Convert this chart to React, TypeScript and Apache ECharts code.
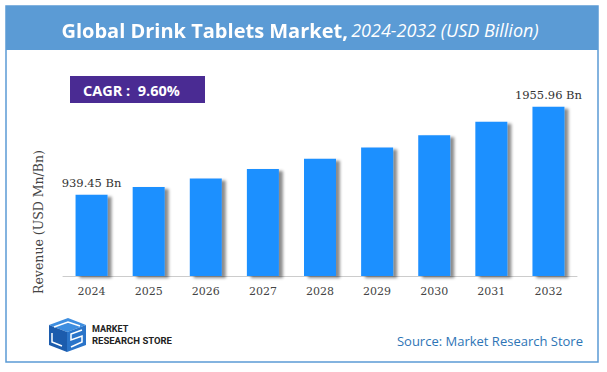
import React, { useEffect, useRef } from "react";
import * as echarts from "echarts";

const years = ["2024", "2025", "2026", "2027", "2028", "2029", "2030", "2031", "2032"];
const revenue = [939.45, 1029.64, 1128.49, 1236.82, 1355.56, 1485.69, 1628.32, 1784.64, 1955.96];
const labelledYears = ["2024", "2032"];
const titleMain = "Global Drink Tablets Market,";
const titleSub = "2024-2032 (USD Billion)";
const cagrText = "CAGR :  9.60%";
const yAxisName = "Revenue (USD Mn/Bn)";
const sourceText = "Source: Market Research Store";

export default function App() {
  const ref = useRef<HTMLDivElement>(null);
  useEffect(() => {
    if (!ref.current) return;
    const chart = echarts.init(ref.current, null, { renderer: "svg" });
    const data = revenue.map((v, i) => ({
      value: v,
      label: { show: labelledYears.includes(years[i]) },
    }));
    chart.setOption({
      animation: false,
      backgroundColor: "#ffffff",
      grid: { left: 63, right: 30, top: 103, bottom: 96 },
      xAxis: {
        type: "category",
        data: years,
        axisLine: { lineStyle: { color: "#cccccc", width: 1 } },
        axisTick: { show: false },
        axisLabel: { color: "#444444", fontFamily: "DejaVu Serif", fontSize: 11, margin: 10 },
      },
      yAxis: {
        type: "value",
        min: 0,
        max: 2000,
        axisLine: { show: false },
        axisTick: { show: false },
        axisLabel: { show: false },
        splitLine: { show: false },
      },
      series: [
        {
          type: "bar",
          data,
          barWidth: 32,
          itemStyle: {
            color: "#1E90FF",
            shadowColor: "rgba(0,0,0,0.45)",
            shadowBlur: 3,
            shadowOffsetX: 4,
            shadowOffsetY: 2,
          },
          label: {
            position: "top",
            distance: 6,
            formatter: "{c} Bn",
            color: "#333333",
            fontFamily: "DejaVu Serif",
            fontSize: 11.5,
          },
        },
      ],
      graphic: [
        {
          type: "rect",
          shape: { x: 6, y: 6, width: 592, height: 356 },
          style: { fill: "none", stroke: "#5B9BD5", lineWidth: 1.5 },
          z: 10,
        },
        {
          type: "rect",
          shape: { x: 6, y: 6, width: 592, height: 44 },
          style: { fill: "#5B9BD5" },
          z: 10,
        },
        {
          type: "text",
          x: 300,
          y: 30,
          z: 11,
          style: {
            text: "{a|" + titleMain + "} {b|" + titleSub + "}",
            align: "center",
            verticalAlign: "middle",
            rich: {
              a: { fill: "#ffffff", fontFamily: "Open Sans", fontWeight: "bold", fontSize: 20, textShadowColor: "rgba(0,0,0,0.15)", textShadowBlur: 1 },
              b: { fill: "#ffffff", fontFamily: "Open Sans", fontStyle: "italic", fontSize: 18 },
            },
          },
        },
        {
          type: "text",
          x: 38,
          y: 222,
          rotation: Math.PI / 2,
          z: 11,
          style: {
            text: yAxisName,
            fill: "#444444",
            fontFamily: "DejaVu Serif",
            fontSize: 12.5,
            align: "center",
            verticalAlign: "middle",
          },
        },
        {
          type: "line",
          shape: { x1: 41, y1: 58.5, x2: 583, y2: 58.5 },
          style: {
            stroke: {
              type: "linear",
              x: 0, y: 0, x2: 1, y2: 0,
              colorStops: [
                { offset: 0, color: "#ED7D31" },
                { offset: 1, color: "#F6C3A0" },
              ],
            },
            lineWidth: 1,
            lineDash: [4, 3],
          },
          z: 10,
        },
        {
          type: "rect",
          shape: { x: 70, y: 76, width: 135, height: 27 },
          style: { fill: "#4A2B93" },
          z: 10,
        },
        {
          type: "text",
          x: 83,
          y: 90,
          z: 11,
          style: {
            text: cagrText,
            fill: "#ffffff",
            fontFamily: "Open Sans",
            fontWeight: "bold",
            fontSize: 14.5,
            align: "left",
            verticalAlign: "middle",
          },
        },
        // logo
        {
          type: "group",
          z: 10,
          children: [
            { type: "polygon", shape: { points: [[49, 325], [68, 318], [86, 325], [67, 332]] }, style: { fill: "#3D8EE0" } },
            { type: "polygon", shape: { points: [[49, 325], [67, 332], [67, 352], [49, 345]] }, style: { fill: "#1C5CAD" } },
            { type: "polygon", shape: { points: [[67, 332], [86, 325], [86, 345], [67, 352]] }, style: { fill: "#2A74C9" } },
            { type: "polyline", shape: { points: [[54, 327], [68, 322], [80, 326]] }, style: { stroke: "#ffffff", lineWidth: 1.5, fill: "none" } },
            { type: "polyline", shape: { points: [[52, 333], [52, 342], [62, 346]] }, style: { stroke: "#ffffff", lineWidth: 1.5, fill: "none" } },
            { type: "polyline", shape: { points: [[82, 330], [71, 334], [71, 340], [82, 336], [82, 342], [71, 347]] }, style: { stroke: "#ffffff", lineWidth: 1.5, fill: "none" } },
          ],
        },
        {
          type: "text",
          x: 92,
          y: 329,
          z: 11,
          style: {
            text: "MARKET",
            fill: "#222222",
            fontFamily: "Roboto",
            fontWeight: "bold",
            fontSize: 9,
            align: "left",
            verticalAlign: "middle",
          },
        },
        {
          type: "text",
          x: 92,
          y: 340,
          z: 11,
          style: {
            text: "RESEARCH STORE",
            fill: "#222222",
            fontFamily: "Roboto",
            fontWeight: "bold",
            fontSize: 9.5,
            align: "left",
            verticalAlign: "middle",
          },
        },
        {
          type: "text",
          x: 583,
          y: 341,
          z: 11,
          style: {
            text: sourceText,
            fill: "#2E75B6",
            fontFamily: "Open Sans",
            fontSize: 13,
            align: "right",
            verticalAlign: "middle",
          },
        },
      ],
    });
    return () => chart.dispose();
  }, []);
  return <div ref={ref} style={{ width: 607, height: 372, position: "absolute", left: 0, top: 0 }} />;
}
